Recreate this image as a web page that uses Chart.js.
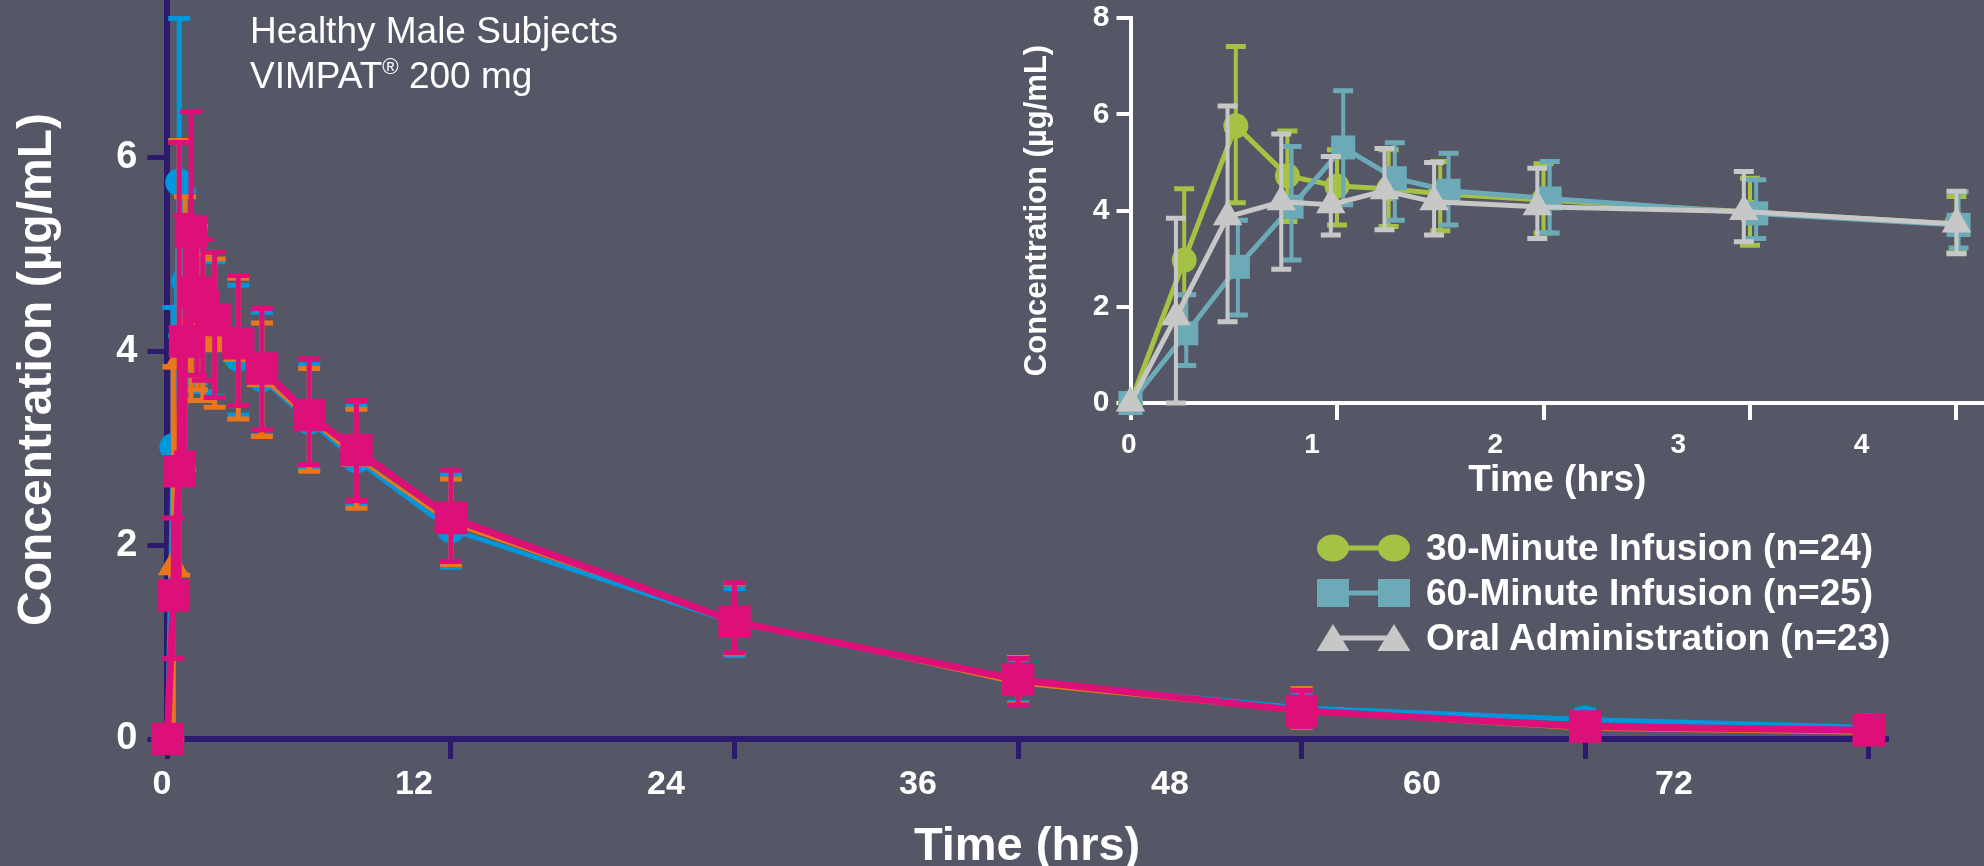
<!DOCTYPE html>
<html>
<head>
<meta charset="utf-8">
<script src="https://cdn.jsdelivr.net/npm/chart.js@4.4.1/dist/chart.umd.min.js"></script>
<style>
  html, body { margin: 0; padding: 0; }
  body { width: 1984px; height: 866px; overflow: hidden; background: #555766; position: relative;
         font-family: 'Liberation Sans', Arial, sans-serif; }
  #mainChart { position: absolute; left: 0; top: 0; }
  #insetChart { position: absolute; left: 980px; top: 0; }
  #note { position: absolute; left: 250px; top: 8px; color: #fff; font-size: 37px; line-height: 45px; white-space: nowrap; }
  #note sup { font-size: 0.6em; vertical-align: baseline; position: relative; top: -0.62em; }
  #legend { position: absolute; left: 1317px; top: 525px; }
  .lg-row { display: flex; align-items: center; height: 45px; }
  .lg-row canvas { margin-right: 16px; }
  .lg-row span { color: #fff; font-weight: bold; font-size: 37px; line-height: 45px; white-space: nowrap; }
</style>
</head>
<body>
<canvas id="mainChart" width="1984" height="866"></canvas>
<canvas id="insetChart" width="1004" height="505"></canvas>
<div id="note">Healthy Male Subjects<br>VIMPAT<sup>®</sup> 200 mg</div>
<div id="legend"></div>
<script>
// ---------------- DATA ----------------
// Main chart: nominal sampling times (hours)
const mainTimes = [0, 0.25, 0.5, 0.75, 1, 1.25, 1.5, 2, 3, 4, 6, 8, 12, 24, 36, 48, 60, 72];
// 30-minute infusion (blue circles)
const blueMean = [0, 3.01, 5.74, 4.72, 4.51, 4.45, 4.35, 4.22, 3.93, 3.72, 3.28, 2.88, 2.16, 1.20, 0.60, 0.32, 0.20, 0.12];
const blueHi   = [0, 4.45, 7.43, 5.65, 5.30, 5.26, 5.02, 4.92, 4.68, 4.40, 3.86, 3.43, 2.73, 1.55, 0.82, 0.47, 0.30, 0.20];
const blueLo   = [0, 1.55, 4.16, 3.77, 3.70, 3.67, 3.58, 3.53, 3.34, 3.13, 2.78, 2.40, 1.77, 0.86, 0.38, 0.17, 0.10, 0.05];
// Oral administration (orange triangles)
const orangeMean = [0, 1.78, 3.90, 4.18, 4.12, 4.41, 4.18, 4.08, 3.98, 3.72, 3.30, 2.90, 2.22, 1.22, 0.57, 0.28, 0.10, 0.06];
const orangeHi   = [0, 3.84, 6.17, 5.59, 5.12, 5.29, 5.00, 4.95, 4.75, 4.29, 3.82, 3.40, 2.68, 1.60, 0.84, 0.52, 0.25, 0.15];
const orangeLo   = [0, 0.00, 1.69, 2.78, 3.49, 3.60, 3.49, 3.42, 3.30, 3.12, 2.76, 2.38, 1.80, 0.88, 0.36, 0.12, 0.02, 0.00];
// 60-minute infusion (magenta squares)
const magentaMean = [0, 1.48, 2.76, 4.10, 5.23, 4.60, 4.46, 4.32, 4.08, 3.82, 3.34, 2.98, 2.28, 1.21, 0.61, 0.29, 0.13, 0.09];
const magentaHi   = [0, 2.28, 6.15, 5.40, 6.47, 5.35, 5.15, 5.02, 4.78, 4.44, 3.92, 3.49, 2.77, 1.61, 0.83, 0.50, 0.22, 0.15];
const magentaLo   = [0, 0.83, 1.45, 2.95, 4.00, 3.75, 3.70, 3.52, 3.44, 3.19, 2.83, 2.46, 1.83, 0.89, 0.35, 0.13, 0.03, 0.04];
// Main chart tick labels (as printed)
const mainXLabels = [0, 12, 24, 36, 48, 60, 72];
const mainYLabels = [0, 2, 4, 6];

// Inset chart (first 4 hours), slightly nudged plotting times as drawn
const inset30Times   = [0, 0.26, 0.51, 0.76, 1.00, 1.25, 1.50, 2.00, 3.00, 4.00];
const inset30Mean    = [0, 2.97, 5.76, 4.72, 4.51, 4.45, 4.35, 4.22, 3.97, 3.72];
const inset30Hi      = [0, 4.45, 7.41, 5.65, 5.26, 5.26, 5.02, 4.97, 4.67, 4.29];
const inset30Lo      = [0, 1.55, 4.16, 3.77, 3.70, 3.67, 3.58, 3.53, 3.28, 3.12];
const inset60Times   = [0, 0.27, 0.52, 0.78, 1.03, 1.28, 1.54, 2.03, 3.03, 4.01];
const inset60Mean    = [0, 1.45, 2.83, 4.08, 5.31, 4.67, 4.41, 4.25, 3.94, 3.70];
const inset60Hi      = [0, 2.25, 3.80, 5.33, 6.49, 5.41, 5.19, 5.02, 4.64, 4.39];
const inset60Lo      = [0, 0.78, 1.83, 2.97, 4.12, 3.80, 3.70, 3.53, 3.42, 3.22];
const insetOralTimes = [0, 0.22, 0.47, 0.73, 0.97, 1.23, 1.47, 1.97, 2.97, 4.00];
const insetOralMean  = [0, 1.79, 3.87, 4.18, 4.12, 4.41, 4.18, 4.08, 3.98, 3.72];
const insetOralHi    = [0, 3.84, 6.17, 5.59, 5.12, 5.29, 5.00, 4.88, 4.81, 4.40];
const insetOralLo    = [0, 0.00, 1.69, 2.78, 3.49, 3.60, 3.49, 3.42, 3.35, 3.10];
const insetXLabels = [0, 1, 2, 3, 4];
const insetYLabels = [0, 2, 4, 6, 8];

const insetNames = ['30-Minute Infusion (n=24)', '60-Minute Infusion (n=25)', 'Oral Administration (n=23)'];

// ---------------- STYLE ----------------
const NAVY = '#2c1a6c';
const BLUE = '#0096db', ORANGE = '#e8761e', MAGENTA = '#dc1078';
const GREEN = '#a4c243', TEAL = '#6caab8', GRAY = '#c7c7c7';
const FONT = "'Liberation Sans', Arial, sans-serif";
Chart.defaults.font.family = FONT;
Chart.defaults.color = '#ffffff';

const pts = (xs, ys) => xs.map((x, i) => ({ x: x, y: ys[i] }));
const noPad = s => { s.paddingTop = 0; s.paddingBottom = 0; s.paddingLeft = 0; s.paddingRight = 0; };

// error bar plugin: draws each dataset's bars just beneath its own line/markers
const errorBars = {
  id: 'errorBars',
  beforeDatasetDraw(chart, args) {
    const ds = chart.data.datasets[args.index];
    if (!ds.errHi) return;
    const meta = args.meta;
    const yScale = chart.scales[meta.yAxisID];
    const ctx = chart.ctx;
    const st = ds.errStyle;
    ctx.save();
    ctx.strokeStyle = ds.borderColor;
    ctx.lineCap = 'butt';
    meta.data.forEach((el, i) => {
      const hi = ds.errHi[i], lo = ds.errLo[i];
      if (hi == null || hi === lo) return;
      const x = el.x;
      const yh = yScale.getPixelForValue(hi), yl = yScale.getPixelForValue(lo);
      ctx.lineWidth = st.lineWidth;
      ctx.beginPath(); ctx.moveTo(x, yh); ctx.lineTo(x, yl); ctx.stroke();
      ctx.lineWidth = st.capThickness;
      ctx.beginPath();
      ctx.moveTo(x - st.capHalf, yh); ctx.lineTo(x + st.capHalf, yh);
      ctx.moveTo(x - st.capHalf, yl); ctx.lineTo(x + st.capHalf, yl);
      ctx.stroke();
    });
    ctx.restore();
  }
};

function series(label, xs, mean, hi, lo, color, style, radius, width, order, err) {
  return {
    label: label, data: pts(xs, mean), errHi: hi, errLo: lo, errStyle: err,
    borderColor: color, backgroundColor: color, pointBackgroundColor: color,
    pointBorderWidth: 0, pointStyle: style, pointRadius: radius, borderWidth: width,
    tension: 0, clip: false, order: order
  };
}

// ---------------- MAIN CHART ----------------
const mainErr = { lineWidth: 5, capThickness: 5, capHalf: 11 };
const MAIN_LEFT = 167.4, MAIN_PXH = 23.63, LABEL_X0 = 162, LABEL_PXH = 21.0;
const MAIN_XMAX = 72.76;
const mainRight = MAIN_LEFT + MAIN_XMAX * MAIN_PXH;

new Chart(document.getElementById('mainChart'), {
  type: 'line',
  data: {
    datasets: [
      series('30-Minute Infusion', mainTimes, blueMean, blueHi, blueLo, BLUE, 'circle', 14, 5, 3, mainErr),
      series('Oral Administration', mainTimes, orangeMean, orangeHi, orangeLo, ORANGE, 'triangle', 18, 3, 2, mainErr),
      series('60-Minute Infusion', mainTimes, magentaMean, magentaHi, magentaLo, MAGENTA, 'rect', 23, 7, 1, mainErr)
    ]
  },
  plugins: [errorBars],
  options: {
    responsive: false, animation: false, devicePixelRatio: 1,
    layout: { autoPadding: false, padding: { left: 0, right: 1984 - mainRight, top: 0, bottom: 0 } },
    plugins: { legend: { display: false }, tooltip: { enabled: false } },
    scales: {
      x: {
        type: 'linear', position: 'bottom', min: 0, max: MAIN_XMAX,
        ticks: { display: false, stepSize: 12, includeBounds: false },
        grid: { drawOnChartArea: false, drawTicks: true, tickLength: 20, color: NAVY, lineWidth: 5 },
        border: { display: true, color: NAVY, width: 6 },
        afterFit: s => { s.height = 20; noPad(s); }
      },
      xl: {
        type: 'linear', position: 'bottom',
        min: (MAIN_LEFT - LABEL_X0) / LABEL_PXH, max: (mainRight - LABEL_X0) / LABEL_PXH,
        afterBuildTicks: s => { s.ticks = mainXLabels.map(v => ({ value: v })); },
        ticks: { color: '#fff', font: { size: 34, weight: 'bold' }, padding: 5.6, autoSkip: false, maxRotation: 0 },
        grid: { display: false, drawTicks: false },
        border: { display: false },
        title: { display: true, text: 'Time (hrs)', color: '#fff', font: { size: 47, weight: 'bold', lineHeight: 0.8 }, padding: 0 },
        afterFit: s => { s.height = 107; noPad(s); }
      },
      y: {
        type: 'linear', position: 'left', min: 0, max: 7.62,
        afterBuildTicks: s => { s.ticks = mainYLabels.map(v => ({ value: v })); },
        ticks: { color: '#fff', font: { size: 38, weight: 'bold' }, padding: 10 },
        grid: { drawOnChartArea: false, drawTicks: true, tickLength: 20, color: NAVY, lineWidth: 5 },
        border: { display: true, color: NAVY, width: 6 },
        title: { display: true, text: 'Concentration (µg/mL)', color: '#fff', font: { size: 48, weight: 'bold' }, padding: { top: 9, bottom: 0 } },
        afterFit: s => { s.width = MAIN_LEFT; noPad(s); }
      }
    }
  }
});

// ---------------- INSET CHART ----------------
const insetErr = { lineWidth: 4, capThickness: 5, capHalf: 10 };
const IN_LEFT = 150.5, IN_PXH = 206.5, IN_LABEL_X0 = 148.8, IN_LABEL_PXH = 183.2, IN_W = 1004;
const IN_XMAX = (IN_W - IN_LEFT) / IN_PXH;

const insetChart = new Chart(document.getElementById('insetChart'), {
  type: 'line',
  data: {
    datasets: [
      series(insetNames[0], inset30Times, inset30Mean, inset30Hi, inset30Lo, GREEN, 'circle', 12.5, 5, 3, insetErr),
      series(insetNames[1], inset60Times, inset60Mean, inset60Hi, inset60Lo, TEAL, 'rect', 17, 5, 2, insetErr),
      series(insetNames[2], insetOralTimes, insetOralMean, insetOralHi, insetOralLo, GRAY, 'triangle', 17, 5, 1, insetErr)
    ]
  },
  plugins: [errorBars],
  options: {
    responsive: false, animation: false, devicePixelRatio: 1,
    layout: { autoPadding: false, padding: { left: 0, right: 0, top: 18, bottom: 0 } },
    plugins: { legend: { display: false }, tooltip: { enabled: false } },
    scales: {
      x: {
        type: 'linear', position: 'bottom', min: 0, max: IN_XMAX,
        ticks: { display: false, stepSize: 1, includeBounds: false },
        grid: { drawOnChartArea: false, drawTicks: true, tickLength: 17, color: '#fff', lineWidth: 4 },
        border: { display: true, color: '#fff', width: 4 },
        afterFit: s => { s.height = 17; noPad(s); }
      },
      xl: {
        type: 'linear', position: 'bottom',
        min: (IN_LEFT - IN_LABEL_X0) / IN_LABEL_PXH, max: (IN_W - IN_LABEL_X0) / IN_LABEL_PXH,
        afterBuildTicks: s => { s.ticks = insetXLabels.map(v => ({ value: v })); },
        ticks: { color: '#fff', font: { size: 28, weight: 'bold' }, padding: 8, autoSkip: false, maxRotation: 0 },
        grid: { display: false, drawTicks: false },
        border: { display: false },
        title: { display: true, text: 'Time (hrs)', color: '#fff', font: { size: 37, weight: 'bold', lineHeight: 1 }, padding: { top: 0, bottom: 6 } },
        afterFit: s => { s.height = 85; noPad(s); }
      },
      y: {
        type: 'linear', position: 'left', min: 0, max: 8,
        afterBuildTicks: s => { s.ticks = insetYLabels.map(v => ({ value: v })); },
        ticks: { color: '#fff', font: { size: 30, weight: 'bold' }, padding: 7 },
        grid: { drawOnChartArea: false, drawTicks: true, tickLength: 14, color: '#fff', lineWidth: 4 },
        border: { display: true, color: '#fff', width: 4 },
        title: { display: true, text: 'Concentration (µg/mL)', color: '#fff', font: { size: 31, weight: 'bold' }, padding: { top: 39, bottom: 0 } },
        afterFit: s => { s.width = IN_LEFT; noPad(s); }
      }
    }
  }
});

// ---------------- LEGEND (for the inset series) ----------------
(function buildLegend() {
  const box = document.getElementById('legend');
  insetChart.data.datasets.forEach(ds => {
    const row = document.createElement('div');
    row.className = 'lg-row';
    const c = document.createElement('canvas');
    c.width = 93; c.height = 30;
    const g = c.getContext('2d');
    const cy = 15, x1 = 16, x2 = 77;
    g.strokeStyle = ds.borderColor; g.fillStyle = ds.borderColor; g.lineWidth = 5;
    g.beginPath(); g.moveTo(x1, cy); g.lineTo(x2, cy); g.stroke();
    [x1, x2].forEach(cx => {
      g.beginPath();
      if (ds.pointStyle === 'circle') g.ellipse(cx, cy, 16, 13.5, 0, 0, Math.PI * 2);
      else if (ds.pointStyle === 'rect') g.rect(cx - 16, cy - 14, 32, 28);
      else { g.moveTo(cx, cy - 14); g.lineTo(cx + 16.5, cy + 13); g.lineTo(cx - 16.5, cy + 13); g.closePath(); }
      g.fill();
    });
    const t = document.createElement('span');
    t.textContent = ds.label;
    row.appendChild(c); row.appendChild(t);
    box.appendChild(row);
  });
})();
</script>
</body>
</html>
